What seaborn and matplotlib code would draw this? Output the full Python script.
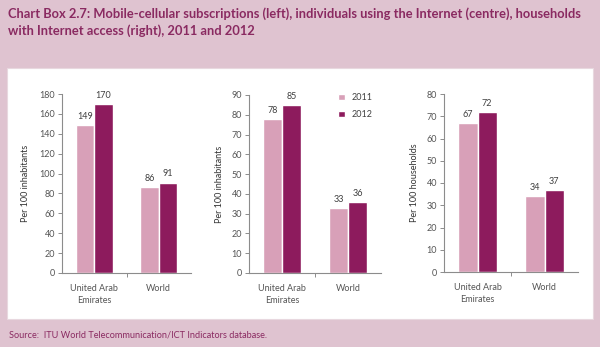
import matplotlib
matplotlib.use("Agg")
import matplotlib.pyplot as plt
import seaborn as sns
import pandas as pd
from matplotlib.patches import Rectangle

categories = ["United Arab\nEmirates", "World"]
years = ["2011", "2012"]
mobile_2011 = [149, 86]
mobile_2012 = [170, 91]
internet_2011 = [78, 33]
internet_2012 = [85, 36]
households_2011 = [67, 34]
households_2012 = [72, 37]

panels = [
    (mobile_2011, mobile_2012, "Per 100 inhabitants", 180, 20),
    (internet_2011, internet_2012, "Per 100 inhabitants", 90, 10),
    (households_2011, households_2012, "Per 100 households", 80, 10),
]

sns.set_theme(style="white")
plt.rcParams['font.family'] = ['Lato', 'DejaVu Sans']

BG = "#dfc3d0"
C2011 = "#d8a0b8"
C2012 = "#8d1b5d"
TXT = "#8a2a61"
GREY = "#555555"

fig = plt.figure(figsize=(6, 3.47), dpi=100)
fig.patch.set_facecolor(BG)
bgax = fig.add_axes([0, 0, 1, 1], zorder=-10)
bgax.set_axis_off()
bgax.set_xlim(0, 1)
bgax.set_ylim(0, 1)
bgax.add_patch(Rectangle((7/600, 1-319/347), 586/600, 251/347,
                         facecolor="white", edgecolor="#e8d8df", lw=0.8))

boxes = [
    (62, 191, 94, 273, -0.25),
    (249, 381, 95, 273, -0.19),
    (444, 578, 94, 272, -0.19),
]

for i, ((v1, v2, ylab, ymax, step), (x0, x1, yt, yb, lx)) in enumerate(zip(panels, boxes)):
    ax = fig.add_axes([x0/600, 1-yb/347, (x1-x0)/600, (yb-yt)/347])
    ax.set_facecolor("none")
    df = pd.DataFrame({
        "cat": categories * 2,
        "year": [years[0]]*2 + [years[1]]*2,
        "val": list(v1) + list(v2),
    })
    sns.barplot(data=df, x="cat", y="val", hue="year", palette=[C2011, C2012],
                width=0.58, gap=0, ax=ax, legend=(i == 1), saturation=1)
    for c in ax.containers:
        ax.bar_label(c, fmt="%d", padding=3, fontsize=6.5, color="#404040")
    ax.set_xlim(-0.5, 1.5)
    ax.set_ylim(0, ymax)
    ax.set_yticks(range(0, ymax+1, step))
    ax.set_xlabel("")
    ax.set_ylabel(ylab, fontsize=6.5, color="#333333")
    ax.yaxis.set_label_coords(lx, 0.5)
    for s in ["top", "right"]:
        ax.spines[s].set_visible(False)
    for s in ["left", "bottom"]:
        ax.spines[s].set_color("#8c8c8c")
        ax.spines[s].set_linewidth(0.8)
    ax.tick_params(axis="y", which="major", length=3, width=0.7, color="#8c8c8c",
                   labelsize=6.5, labelcolor=GREY, pad=2, left=True)
    ax.tick_params(axis="x", which="major", length=0, labelsize=6.5,
                   labelcolor=GREY, pad=8)
    for lbl in ax.get_xticklabels():
        lbl.set_linespacing(1.35)
    ax.set_xticks([0.5], minor=True)
    ax.tick_params(axis="x", which="minor", length=3, width=0.7, color="#8c8c8c",
                   bottom=True)
    if i == 1:
        leg = ax.legend(loc="upper left", bbox_to_anchor=(0.65, 1.03), frameon=False,
                        fontsize=6.5, handlelength=0.7, handleheight=0.7,
                        handletextpad=0.8, labelspacing=0.9, borderaxespad=0)
        for t in leg.get_texts():
            t.set_color("#404040")

fig.text(8/600, 1-14/347,
         "Chart Box 2.7: Mobile-cellular subscriptions (left), individuals using the Internet (centre), households",
         fontsize=9.3, fontweight="bold", color=TXT, va="center", ha="left")
fig.text(8/600, 1-31/347,
         "with Internet access (right), 2011 and 2012",
         fontsize=9.3, fontweight="bold", color=TXT, va="center", ha="left")
fig.text(9/600, 1-335/347, "Source:  ITU World Telecommunication/ICT Indicators database.",
         fontsize=6.6, color=TXT, va="center", ha="left")

fig.savefig("out.png", dpi=100, facecolor=BG)
